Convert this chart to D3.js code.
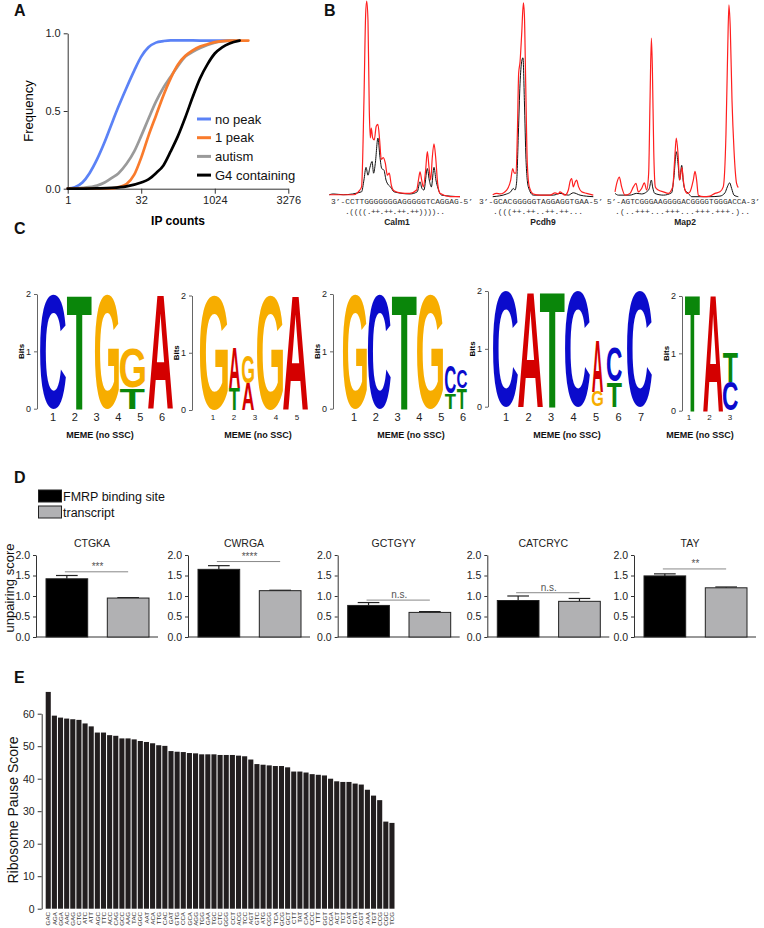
<!DOCTYPE html>
<html><head><meta charset="utf-8">
<script src="https://cdn.jsdelivr.net/npm/d3@7"></script>
<style>body{margin:0;background:#fff}svg{display:block}</style>
</head><body><svg id="c" width="764" height="928"></svg>
<script>
// ---------------- DATA ----------------
// Panel A: cumulative frequency vs IP counts
const aSeriesNames = ["no peak","1 peak","autism","G4 containing"];
const cdfNoPeak = [[1,0],[1.4,0.01],[2,0.04],[2.8,0.1],[4,0.19],[5.7,0.3],[8,0.42],[11,0.53],[16,0.65],[23,0.76],[32,0.85],[45,0.91],[64,0.94],[91,0.95],[128,0.955],[256,0.955],[512,0.953],[1024,0.953],[2500,0.953]];
const cdfOnePeak = [[1,0],[8,0.002],[11,0.01],[16,0.03],[23,0.09],[32,0.2],[45,0.34],[64,0.47],[91,0.6],[128,0.71],[181,0.8],[256,0.855],[362,0.89],[512,0.915],[724,0.93],[1024,0.943],[1448,0.95],[2048,0.953],[5000,0.953]];
const cdfAutism = [[1,0],[2,0.005],[4,0.02],[5.7,0.04],[8,0.07],[11,0.1],[16,0.16],[23,0.24],[32,0.34],[45,0.45],[64,0.56],[91,0.65],[128,0.72],[181,0.79],[256,0.85],[362,0.88],[512,0.905],[724,0.925],[1024,0.94],[1448,0.948],[2048,0.952],[3400,0.953]];
const cdfG4 = [[1,0],[4,0.002],[8,0.005],[16,0.015],[32,0.04],[45,0.06],[64,0.1],[91,0.15],[128,0.24],[181,0.34],[256,0.46],[362,0.59],[512,0.71],[724,0.8],[1024,0.87],[1448,0.91],[2048,0.935],[3300,0.953]];
const aTicksX = [1,32,1024,32768];
const aTickLabelsX = ["1","32","1024","3276"];
const aTicksY = [0,0.5,1];

// Panel B: read-through traces (position %, relative signal)
const geneNames = ["Calm1","Pcdh9","Map2"];
const geneSeqs = ["3\u2019-CCTTGGGGGGGAGGGGGTCAGGAG-5\u2019","3\u2019-GCACGGGGGTAGGAGGTGAA-5\u2019","5\u2019-AGTCGGGAAGGGGACGGGGTGGGACCA-3\u2019"];
const geneStructs = [".((((.++.++.++.++))))..",".(((++.++..++.++...",".(..+++...+++...+++.+++.).."];
const calm1Red = [[0,0.01],[10.7,0.01],[18.4,0.01],[22.2,0.025],[24.7,0.05],[26.5,0.49],[27.8,0.93],[28.6,1.0],[29.6,0.9],[30.6,0.44],[31.4,0.3],[32.1,0.35],[33.2,0.3],[34.4,0.29],[35.9,0.36],[37.2,0.37],[38.5,0.29],[39.8,0.19],[41.3,0.2],[42.9,0.17],[44.4,0.11],[45.9,0.12],[47.4,0.06],[49.5,0.03],[54.1,0.02],[61.7,0.017],[66.8,0.034],[68.4,0.093],[69.4,0.127],[70.7,0.085],[71.9,0.05],[73.7,0.136],[75,0.23],[76.3,0.15],[77.6,0.085],[78.8,0.2],[80.1,0.27],[81.4,0.2],[82.9,0.068],[84.7,0.017],[92.3,0],[100,0]];
const calm1Black = [[0,0.01],[3,0.014],[10.7,0.01],[24.7,0.025],[26.5,0.085],[28.1,0.15],[29.6,0.11],[31.1,0.15],[32.7,0.18],[33.9,0.12],[35.2,0.17],[37.2,0.3],[38.8,0.2],[40.1,0.144],[41.8,0.136],[43.4,0.085],[45.2,0.06],[46.9,0.05],[49.5,0.025],[61.7,0.014],[67.3,0.025],[69.4,0.076],[70.9,0.042],[72.4,0.034],[75,0.144],[76.5,0.085],[78.1,0.05],[80.1,0.15],[81.6,0.085],[83.2,0.042],[86,0.008],[100,0]];
const pcdh9Red = [[0,0.01],[4,0.017],[7.3,0.014],[13.9,0.034],[17.9,0.085],[19.9,0.144],[21.5,0.12],[23.2,0.12],[24.5,0.32],[25.8,0.63],[27.2,0.69],[28.8,0.83],[30.5,0.99],[31.5,0.93],[32.8,0.58],[34.4,0.17],[36.4,0.05],[40.4,0.014],[47,0.008],[57,0.008],[62,0.02],[65.2,0.014],[66.9,0.025],[71.9,0.008],[75.2,0.034],[76.8,0.076],[78.5,0.093],[80.1,0.05],[82.1,0.076],[83.4,0.085],[85.4,0.05],[88.4,0.025],[93.4,0.017],[100,0.008]];
const pcdh9Black = [[0,0],[13.9,0.014],[17.9,0.025],[20.5,0.042],[22.2,0.034],[23.8,0.076],[25.5,0.32],[27.2,0.58],[28.8,0.69],[30.1,0.71],[31.5,0.49],[33.1,0.19],[35.4,0.05],[40.4,0.008],[60.3,0.008],[66.9,0.017],[75.2,0.008],[80.1,0.02],[86.8,0.008],[100,0]];
const map2Red = [[0,0.025],[1.4,0.068],[3.5,0.1],[5.4,0.05],[8.1,0.008],[12.2,0.017],[14.9,0.05],[17,0.068],[18.9,0.025],[21.6,0.042],[23.8,0.071],[25.7,0.034],[27.3,0.12],[28.4,0.49],[29.5,0.81],[30.3,0.66],[31.4,0.24],[32.7,0.05],[35.1,0.034],[39.2,0.025],[43.2,0.017],[46.8,0.05],[48.4,0.19],[49.7,0.3],[51.1,0.22],[52.4,0.085],[54.3,0.15],[55.4,0.085],[56.8,0.034],[58.6,0.017],[60.8,0.025],[63.5,0.085],[64.9,0.13],[66.2,0.085],[67.6,0.008],[71.6,0],[77,0.003],[81.1,0.017],[85.1,0.025],[87.8,0.05],[90,0.32],[91.4,0.75],[92.4,0.98],[93.5,0.86],[94.9,0.49],[96.5,0.24],[98.6,0.068],[100,0.047]];
const map2Black = [[0,0.017],[2.7,0.008],[12.2,0.008],[17.6,0.017],[21.6,0.014],[25.7,0.025],[27.8,0.042],[29.5,0.085],[30.5,0.05],[32.2,0.017],[39.2,0.008],[45.9,0.02],[47.8,0.1],[49.7,0.23],[51.1,0.17],[52.4,0.085],[54.1,0.16],[55.4,0.076],[56.8,0.034],[58.1,0.025],[59.5,0.017],[62.2,0],[77,0],[85.1,0.003],[89.2,0.02],[91.1,0.05],[93,0.071],[94.6,0.042],[96.5,0.008],[100,0]];

// Panel C: sequence logos (each column: letters bottom -> top, [letter, bits])
const logoCTGKA = [[["C",2]],[["T",2]],[["G",2]],[["T",0.37],["G",0.69]],[["A",2]]];
const logoCWRGA = [[["G",2]],[["T",0.39],["A",0.7]],[["A",0.47],["G",0.49]],[["G",2]],[["A",2]]];
const logoGCTGYY = [[["G",2]],[["C",2]],[["T",2]],[["G",2]],[["T",0.26],["C",0.49]],[["T",0.35],["C",0.33]]];
const logoCATCRYC = [[["C",2]],[["A",2]],[["T",2]],[["C",2]],[["G",0.26],["A",0.89]],[["T",0.43],["C",0.6]],[["C",2]]];
const logoTAY = [[["T",2.05]],[["A",2.05]],[["C",0.5],["T",0.52]]];
const logoPositionLabels = [["1","2","3","4","5","6"],["1","2","3","4","5"],["1","2","3","4","5","6"],["1","2","3","4","5","6","7"],["1","2","3"]];
const logoCaption = "MEME (no SSC)";
const bitsTicks = [0,1,2];

// Panel D: unpairing score
const dMotifs = ["CTGKA","CWRGA","GCTGYY","CATCRYC","TAY"];
const dGroups = ["FMRP binding site","transcript"];
const fmrpMean = [1.42,1.65,0.77,0.89,1.49];
const fmrpErr = [0.08,0.09,0.07,0.11,0.05];
const transcriptMean = [0.95,1.13,0.60,0.87,1.20];
const transcriptErr = [0.01,0.01,0.02,0.07,0.02];
const sigLabels = ["***","****","n.s.","n.s.","**"];
const sigLevel = [1.59,1.84,0.90,1.08,1.66];
const dTicks = [0,0.5,1,1.5,2];

// Panel E: ribosome pause score per codon
const codons = ["GAC","AGA","GGA","AAC","GAG","CTG","ATC","ATT","AGC","TTC","ACC","CAG","GCC","AAG","TAC","GGC","AAT","ACA","TTG","CAC","GAT","GTG","CCA","GCA","AGG","TGG","GAA","TGC","CTC","GGG","CCT","ACG","TCC","AGT","GTC","ATG","CGG","TCA","GCG","GCT","CTT","TAT","CAA","CCC","TTT","GGT","CGA","ACT","TCT","CAT","GTA","CGT","AAA","TGT","CCG","CGC","TCG"];
const pauseScores = [66.7,59.4,58.8,58.5,58.3,58.1,57.0,56.1,54.2,54.2,53.4,53.2,52.4,52.4,52.1,51.6,51.3,50.9,50.3,50.1,48.5,48.3,48.2,47.9,47.8,47.5,47.5,47.5,47.3,47.3,47.3,47.1,46.9,45.9,44.5,44.3,44.1,43.9,43.9,43.5,42.2,42.2,41.9,41.4,41.2,41.0,40.0,39.2,39.0,39.0,38.5,38.2,36.6,34.8,33.4,26.8,26.4];
const eTicks = [0,10,20,30,40,50,60];

// ---------------- DRAW ----------------
const FONT = '"Liberation Sans", Arial, Helvetica, sans-serif';
const svg = d3.select("#c").style("font-family", FONT);

function styleAxis(g, fs){
  g.selectAll("text").attr("font-size", fs).attr("font-family", FONT).attr("fill", "#222");
  g.selectAll("path,line").attr("stroke", "#333").attr("stroke-width", 1);
}
function panelLabel(t, x, y){
  svg.append("text").attr("x", x).attr("y", y).text(t)
    .attr("font-size", 16).attr("font-weight", "bold").attr("fill", "#111");
}

// ---- Panel A ----
panelLabel("A", 14, 16);
const xA = d3.scaleLog().base(2).domain([1, 32768]).range([67.7, 288.3]);
const yA = d3.scaleLinear().domain([0, 1]).range([188.7, 33.3]);
const gA = svg.append("g");
const axAx = gA.append("g").attr("transform", `translate(0,${yA(0)})`)
  .call(d3.axisBottom(xA).tickValues(aTicksX).tickFormat((d, i) => aTickLabelsX[i]).tickSize(5).tickSizeOuter(0));
styleAxis(axAx, 11);
const axAy = gA.append("g").attr("transform", `translate(${xA(1)},0)`)
  .call(d3.axisLeft(yA).tickValues(aTicksY).tickFormat(d3.format(".1f")).tickSize(4).tickSizeOuter(0));
styleAxis(axAy, 11);
gA.append("text").attr("transform", `translate(28,${yA(0.5)}) rotate(-90)`).attr("text-anchor", "middle")
  .attr("dy", "0.35em").attr("font-size", 13).text("Frequency");
gA.append("text").attr("x", 178).attr("y", 225).attr("text-anchor", "middle").attr("font-weight", "bold")
  .attr("font-size", 12).text("IP counts");
const aColors = ["#5b82f6", "#f97b2c", "#9a9a9a", "#000000"];
const aData = [cdfNoPeak, cdfOnePeak, cdfAutism, cdfG4];
const lineA = d3.line().x(d => xA(d[0])).y(d => yA(d[1])).curve(d3.curveMonotoneX);
[0, 2, 1, 3].forEach(i => {
  gA.append("path").datum(aData[i]).attr("d", lineA).attr("fill", "none")
    .attr("stroke", aColors[i]).attr("stroke-width", 2.7).attr("stroke-linecap", "round");
});
const legA = gA.append("g");
aSeriesNames.forEach((n, i) => {
  const y = 119 + i * 18.7;
  legA.append("line").attr("x1", 197).attr("x2", 211).attr("y1", y).attr("y2", y)
    .attr("stroke", aColors[i]).attr("stroke-width", 3);
  legA.append("text").attr("x", 215).attr("y", y).attr("dy", "0.35em").attr("font-size", 13).attr("fill", "#111").text(n);
});

// ---- Panel B ----
panelLabel("B", 324, 16);
const bLayout = [
  {x0: 329.3, x1: 460, seqX: [331, 473], stX: [345, 445], nameX: 397},
  {x0: 492.7, x1: 593.3, seqX: [479, 603], stX: [493, 583], nameX: 543},
  {x0: 615, x1: 738.3, seqX: [607, 760], stX: [615, 750], nameX: 685}
];
const bRed = [calm1Red, pcdh9Red, map2Red];
const bBlack = [calm1Black, pcdh9Black, map2Black];
const yB = d3.scaleLinear().domain([0, 1]).range([196.7, 1]);
bLayout.forEach((L, i) => {
  const xB = d3.scaleLinear().domain([0, 100]).range([L.x0, L.x1]);
  const ln = d3.line().x(d => xB(d[0])).y(d => yB(d[1])).curve(d3.curveMonotoneX);
  svg.append("path").datum(bBlack[i]).attr("d", ln).attr("fill", "none").attr("stroke", "#111").attr("stroke-width", 1);
  svg.append("path").datum(bRed[i]).attr("d", ln).attr("fill", "none").attr("stroke", "#ff1f1f").attr("stroke-width", 1.2);
  svg.append("text").attr("x", L.seqX[0]).attr("y", 204.3).attr("font-family", '"Liberation Mono", "DejaVu Sans Mono", monospace')
    .attr("font-size", 8).attr("fill", "#333").attr("textLength", L.seqX[1] - L.seqX[0]).attr("lengthAdjust", "spacingAndGlyphs").text(geneSeqs[i]);
  svg.append("text").attr("x", L.stX[0]).attr("y", 213.5).attr("font-family", '"Liberation Mono", "DejaVu Sans Mono", monospace')
    .attr("font-size", 8).attr("fill", "#333").attr("textLength", L.stX[1] - L.stX[0]).attr("lengthAdjust", "spacing").text(geneStructs[i]);
  svg.append("text").attr("x", L.nameX).attr("y", 224.5).attr("text-anchor", "middle").attr("font-size", 8.5)
    .attr("font-weight", "bold").attr("fill", "#222").text(geneNames[i]);
});

// ---- Panel C ----
panelLabel("C", 14, 234);
const letterColor = {A: "#d40000", C: "#0b0bcc", G: "#f7ad00", T: "#0a860a"};
const cvs = document.createElement("canvas").getContext("2d");
const GFS = 100;
cvs.font = `bold ${GFS}px "Liberation Sans", Arial, sans-serif`;
const gBox = {};
["A", "C", "G", "T"].forEach(ch => {
  const m = cvs.measureText(ch);
  gBox[ch] = {l: m.actualBoundingBoxLeft, r: m.actualBoundingBoxRight, a: m.actualBoundingBoxAscent, d: m.actualBoundingBoxDescent};
});
function drawLetter(g, ch, x0, x1, yT, yB2){
  const b = gBox[ch];
  const sx = (x1 - x0) / (b.l + b.r), sy = (yB2 - yT) / (b.a + b.d);
  g.append("text").attr("transform", `translate(${x0},${yT}) scale(${sx},${sy}) translate(${b.l},${b.a})`)
    .attr("font-size", GFS).attr("font-weight", "bold").attr("font-family", FONT).attr("fill", letterColor[ch]).text(ch);
}
const logoData = [logoCTGKA, logoCWRGA, logoGCTGYY, logoCATCRYC, logoTAY];
const logoLayout = [
  {ax: 37, y2: 294, y0: 408.7, cols: [[40,66],[67,92],[95,119],[120,145],[148,173]], lx: [53,162], lfs: 11, cap: 100},
  {ax: 192, y2: 295.5, y0: 410, cols: [[200,228],[229,240],[242,254],[257,283],[283,308]], lx: [213,297], lfs: 8, cap: 258},
  {ax: 333, y2: 294, y0: 408.7, cols: [[343,367],[368,391],[392,417],[417,443],[445,456],[457,467]], lx: [354,463], lfs: 11, cap: 411},
  {ax: 488, y2: 291, y0: 406.7, cols: [[493,518],[518,543],[540,565],[565,590],[592,603],[607,622],[627,652]], lx: [506,641], lfs: 11, cap: 567},
  {ax: 682, y2: 296, y0: 410.7, cols: [[685,700],[703,723],[723,738]], lx: [689,730], lfs: 8, cap: 700}
];
logoData.forEach((cols, li) => {
  const L = logoLayout[li];
  const g = svg.append("g");
  const yC = d3.scaleLinear().domain([0, 2]).range([L.y0, L.y2]);
  const ax = g.append("g").attr("transform", `translate(${L.ax},0)`)
    .call(d3.axisLeft(yC).tickValues(bitsTicks).tickFormat(d3.format("d")).tickSize(3).tickSizeOuter(0));
  styleAxis(ax, 9);
  ax.selectAll("path,line").attr("stroke", "#666");
  g.append("text").attr("transform", `translate(${L.ax - 16},${(L.y0 + L.y2) / 2}) rotate(-90)`)
    .attr("text-anchor", "middle").attr("dy", "0.35em").attr("font-size", 8).attr("font-weight", "bold").text("Bits");
  cols.forEach((stack, ci) => {
    let base = 0;
    stack.forEach(([ch, bits]) => {
      drawLetter(g, ch, L.cols[ci][0], L.cols[ci][1], yC(base + bits), yC(base));
      base += bits;
    });
  });
  const labs = logoPositionLabels[li];
  const xl = d3.scalePoint().domain(labs).range(L.lx);
  labs.forEach(t => {
    g.append("text").attr("x", xl(t)).attr("y", 417).attr("dy", "0.35em").attr("text-anchor", "middle")
      .attr("font-size", L.lfs).attr("fill", "#222").text(t);
  });
  g.append("text").attr("x", L.cap).attr("y", 435).attr("dy", "0.35em").attr("text-anchor", "middle")
    .attr("font-size", 9).attr("font-weight", "bold").attr("fill", "#111").text(logoCaption);
});

// ---- Panel D ----
panelLabel("D", 14, 483);
const legD = svg.append("g");
[["#000", 490], ["#b1b1b3", 506]].forEach(([c, y], i) => {
  legD.append("rect").attr("x", 38.5).attr("y", y).attr("width", 23).attr("height", 12)
    .attr("fill", c).attr("stroke", "#222").attr("stroke-width", 1);
  legD.append("text").attr("x", 63).attr("y", y + 6.5).attr("dy", "0.35em").attr("font-size", 12.5).attr("fill", "#111").text(dGroups[i]);
});
svg.append("text").attr("transform", "translate(9,588) rotate(-90)").attr("text-anchor", "middle").attr("dy", "0.35em")
  .attr("font-size", 13).attr("fill", "#111").text("unpairing score");
const yD = d3.scaleLinear().domain([0, 2]).range([637, 555]);
const dAxisX = [36, 188, 337.7, 487.3, 634];
dMotifs.forEach((m, i) => {
  const ax0 = dAxisX[i];
  const g = svg.append("g");
  const xD = d3.scaleBand().domain(dGroups).range([ax0 + 10, ax0 + 113]).paddingInner(0.32).paddingOuter(0);
  const ya = g.append("g").attr("transform", `translate(${ax0},0)`)
    .call(d3.axisLeft(yD).tickValues(dTicks).tickFormat(d3.format(".1f")).tickSize(3).tickSizeOuter(0));
  styleAxis(ya, 10.5);
  g.append("line").attr("x1", ax0).attr("x2", ax0 + 122).attr("y1", yD(0)).attr("y2", yD(0)).attr("stroke", "#333");
  g.append("text").attr("x", ax0 + 56).attr("y", 543).attr("dy", "0.35em").attr("text-anchor", "middle")
    .attr("font-size", 10.5).attr("fill", "#222").text(m);
  const vals = [[fmrpMean[i], fmrpErr[i], "#000"], [transcriptMean[i], transcriptErr[i], "#b1b1b3"]];
  vals.forEach(([v, e, c], k) => {
    const x = xD(dGroups[k]), bw = xD.bandwidth(), cx = x + bw / 2;
    g.append("line").attr("x1", cx).attr("x2", cx).attr("y1", yD(v)).attr("y2", yD(v + e)).attr("stroke", "#222").attr("stroke-width", 1.2);
    g.append("line").attr("x1", cx - bw * 0.26).attr("x2", cx + bw * 0.26).attr("y1", yD(v + e)).attr("y2", yD(v + e)).attr("stroke", "#222").attr("stroke-width", 1.2);
    g.append("rect").attr("x", x).attr("y", yD(v)).attr("width", bw).attr("height", yD(0) - yD(v))
      .attr("fill", c).attr("stroke", "#222").attr("stroke-width", 1);
  });
  const c1 = xD(dGroups[0]) + xD.bandwidth() / 2, c2 = xD(dGroups[1]) + xD.bandwidth() / 2;
  g.append("line").attr("x1", c1 - 2).attr("x2", c2).attr("y1", yD(sigLevel[i])).attr("y2", yD(sigLevel[i]))
    .attr("stroke", "#888").attr("stroke-width", 1);
  g.append("text").attr("x", (c1 + c2) / 2).attr("y", yD(sigLevel[i]) - 2).attr("text-anchor", "middle")
    .attr("font-size", 10).attr("fill", "#555").text(sigLabels[i]);
});

// ---- Panel E ----
panelLabel("E", 14, 683);
const xE = d3.scaleBand().domain(codons).range([45.7, 394.5]).paddingInner(0.17).paddingOuter(0);
const yE = d3.scaleLinear().domain([0, 60]).range([908.7, 713.7]);
const gE = svg.append("g");
const axE = gE.append("g").attr("transform", "translate(41.7,0)")
  .call(d3.axisLeft(yE).tickValues(eTicks).tickSize(4).tickSizeOuter(0));
styleAxis(axE, 10.5);
gE.append("text").attr("transform", "translate(13,810) rotate(-90)").attr("text-anchor", "middle").attr("dy", "0.35em")
  .attr("font-size", 14).attr("fill", "#111").text("Ribosome Pause Score");
gE.selectAll("rect.bar").data(codons).enter().append("rect")
  .attr("x", d => xE(d)).attr("width", xE.bandwidth())
  .attr("y", (d, i) => yE(pauseScores[i])).attr("height", (d, i) => yE(0) - yE(pauseScores[i]))
  .attr("fill", "#221e1f");
gE.selectAll("text.cod").data(codons).enter().append("text")
  .attr("transform", d => `translate(${xE(d) + xE.bandwidth() / 2},912) rotate(-90)`)
  .attr("text-anchor", "end").attr("dy", "0.35em").attr("font-size", 6.2).attr("fill", "#333").text(d => d);
</script></body></html>
